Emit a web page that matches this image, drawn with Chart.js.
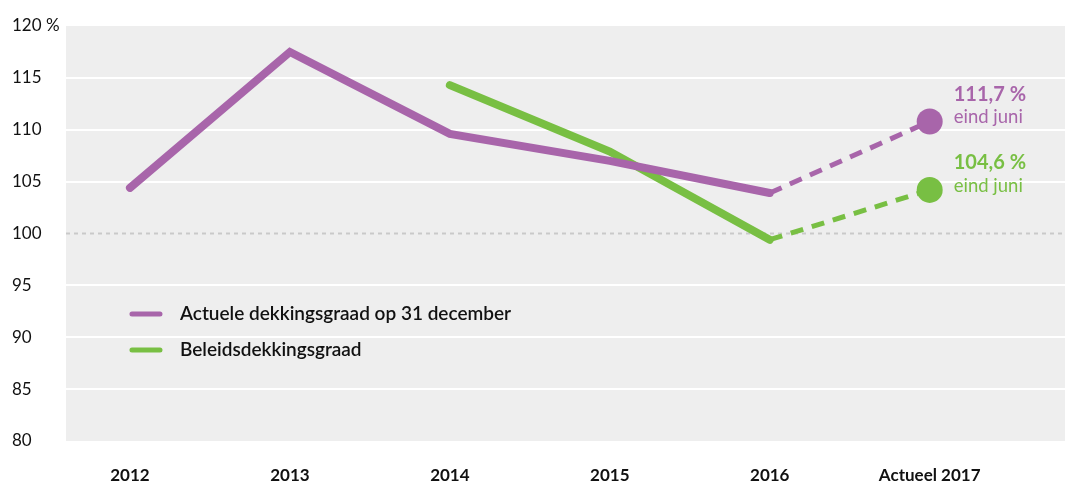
<!DOCTYPE html>
<html>
<head>
<meta charset="utf-8">
<script src="https://cdn.jsdelivr.net/npm/chart.js@4"></script>
<style>
  html, body { margin: 0; padding: 0; background: #fff; overflow: hidden; }
  #wrap { width: 1078px; height: 483px; position: relative; }
  canvas { display: block; }
</style>
</head>
<body>
<div id="wrap"><canvas id="dekking_chart"></canvas></div>
<script>
// data
var years = ["2012", "2013", "2014", "2015", "2016", "Actueel 2017"]
var actueel = [104.4, 117.5, 109.6, 107.0, 103.9, null]
var beleids = [null, null, 114.3, 107.9, 99.4, null]
var actueelJuni = 110.8
var beleidsJuni = 104.2
var yTicks = [80, 85, 90, 95, 100, 105, 110, 115, 120]
var seriesNames = ["Actuele dekkingsgraad op 31 december", "Beleidsdekkingsgraad"]
var juniLabels = ["111,7 %", "104,6 %"]
var juniText = "eind juni"

var purple = "#a865aa"
var green = "#78bf43"
var font = "Lato, 'Open Sans', sans-serif"

function points(arr) {
    return arr.map(function (v, i) { return { x: i, y: v } })
}
// dashed part: from last year to "actueel 2017"
function projection(arr, last) {
    var out = arr.map(function (v, i) { return { x: i, y: null } })
    out[4].y = arr[4]
    out[5].y = last
    return out
}

// gray plot background + 100 % reference line
var backdrop = {
    id: "backdrop",
    beforeDraw: function (chart) {
        var a = chart.chartArea, c = chart.ctx
        c.save()
        c.fillStyle = "#eeeeee"
        c.fillRect(a.left, a.top, a.right - a.left, a.bottom - a.top)
        c.restore()
    },
    beforeDatasetsDraw: function (chart) {
        var a = chart.chartArea, c = chart.ctx
        var y = chart.scales.y.getPixelForValue(100)
        c.save()
        c.strokeStyle = "#c9c9c9"
        c.lineWidth = 2
        c.setLineDash([4, 4])
        c.beginPath()
        c.moveTo(a.left, y)
        c.lineTo(a.right, y)
        c.stroke()
        c.restore()
    }
}

// legend and end labels
var labels = {
    id: "labels",
    afterDatasetsDraw: function (chart) {
        var c = chart.ctx
        var colors = [purple, green]
        c.save()
        // legend
        var lx = chart.scales.x.getPixelForValue(0)
        var ly = [314, 350]
        seriesNames.forEach(function (name, i) {
            c.strokeStyle = colors[i]
            c.lineWidth = 5
            c.lineCap = "round"
            c.beginPath()
            c.moveTo(lx + 2, ly[i])
            c.lineTo(lx + 30, ly[i])
            c.stroke()
            c.fillStyle = "#111"
            c.font = "600 19px " + font
            c.textAlign = "left"
            c.textBaseline = "middle"
            c.fillText(name, lx + 50, ly[i])
        })
        // labels at juni points
        ;[2, 3].forEach(function (ds, i) {
            var pt = chart.getDatasetMeta(ds).data[5]
            c.fillStyle = colors[i]
            c.textAlign = "left"
            c.textBaseline = "middle"
            c.font = "bold 20px " + font
            c.fillText(juniLabels[i], pt.x + 24, pt.y - 27)
            c.font = "18.5px " + font
            c.fillText(juniText, pt.x + 24, pt.y - 4)
        })
        c.restore()
    }
}

var canvas = document.getElementById("dekking_chart")
var config = {
    type: "line",
    data: {
        datasets: [{
            label: seriesNames[0],
            data: points(actueel),
            borderColor: purple,
            borderWidth: 8,
            borderCapStyle: "round",
            pointRadius: 0
        },
        {
            label: seriesNames[1],
            data: points(beleids),
            borderColor: green,
            borderWidth: 8,
            borderCapStyle: "round",
            pointRadius: 0
        },
        {
            label: "juni a",
            data: projection(actueel, actueelJuni),
            borderColor: purple,
            backgroundColor: purple,
            borderWidth: 5,
            borderDash: [13, 9],
            pointRadius: [0, 0, 0, 0, 0, 13],
            pointBorderWidth: 0
        },
        {
            label: "juni b",
            data: projection(beleids, beleidsJuni),
            borderColor: green,
            backgroundColor: green,
            borderWidth: 5,
            borderDash: [13, 9],
            pointRadius: [0, 0, 0, 0, 0, 13],
            pointBorderWidth: 0
        }
        ]
    },
    options: {
        responsive: true,
        maintainAspectRatio: false,
        animation: false,
        layout: { padding: { left: 12, right: 8, top: 26, bottom: 0 } },
        plugins: {
            legend: { display: false },
            tooltip: { enabled: false }
        },
        scales: {
            x: {
                type: "linear",
                min: -0.4,
                max: 5.846,
                afterBuildTicks: function (axis) {
                    axis.ticks = years.map(function (y, i) { return { value: i } })
                },
                afterFit: function (axis) { axis.height = 42 },
                grid: { display: false },
                border: { display: false },
                ticks: {
                    padding: 16,
                    color: "#111",
                    font: { family: font, size: 17, weight: "bold" },
                    callback: function (v) { return years[v] }
                }
            },
            y: {
                min: 80,
                max: 120,
                afterBuildTicks: function (axis) {
                    axis.ticks = yTicks.map(function (v) { return { value: v } })
                },
                afterFit: function (axis) { axis.width = 54 },
                border: { display: false },
                grid: {
                    drawTicks: false,
                    lineWidth: 2,
                    color: function (ctx) {
                        var v = ctx.tick && ctx.tick.value
                        return (v === 80 || v === 120 || v === 100) ? "rgba(0,0,0,0)" : "#ffffff"
                    }
                },
                ticks: {
                    crossAlign: "far",
                    padding: 0,
                    color: "#111",
                    font: { family: font, size: 17 },
                    callback: function (v) { return v === 120 ? "120 %" : String(v) }
                }
            }
        }
    },
    plugins: [backdrop, labels]
}
var dekking_chart = new Chart(canvas, config)
</script>
</body>
</html>
